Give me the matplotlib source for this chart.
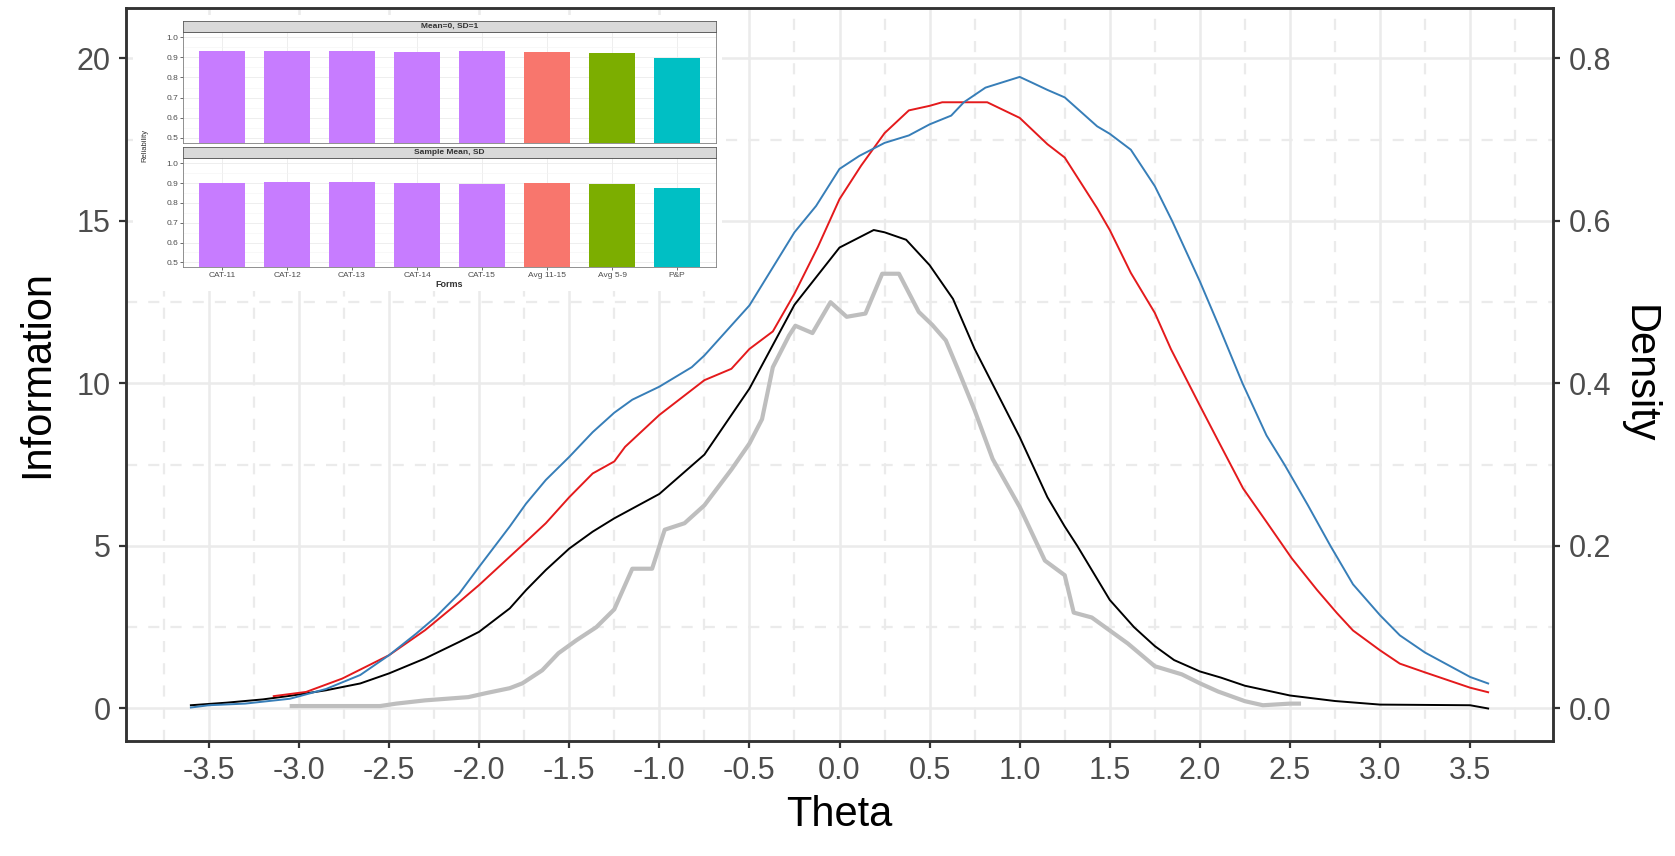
import matplotlib
matplotlib.use('Agg')
import matplotlib.pyplot as plt

plt.rcParams['font.family'] = ['Liberation Sans', 'DejaVu Sans']

# information curves (theta, information)
blue_theta = [-3.6, -3.5, -3.3, -3.05, -2.85, -2.66, -2.5, -2.35, -2.24, -2.11, -2.0, -1.83, -1.74,
              -1.63, -1.5, -1.37, -1.25, -1.15, -1.0, -0.82, -0.75, -0.5, -0.25, -0.13, 0.0, 0.11,
              0.25, 0.385, 0.5, 0.62, 0.69, 0.81, 1.0, 1.07, 1.154, 1.25, 1.43, 1.5, 1.617, 1.75,
              1.846, 2.0, 2.105, 2.237, 2.37, 2.47, 2.6, 2.725, 2.85, 3.0, 3.11, 3.25, 3.5, 3.6]
blue_info = [0.03, 0.1, 0.15, 0.3, 0.6, 1.03, 1.64, 2.3, 2.82, 3.54, 4.36, 5.6, 6.3,
             7.03, 7.74, 8.5, 9.1, 9.5, 9.9, 10.5, 10.86, 12.4, 14.65, 15.46, 16.6, 17.0,
             17.4, 17.63, 17.97, 18.24, 18.65, 19.1, 19.43, 19.25, 19.03, 18.8, 17.91, 17.68, 17.19, 16.07,
             15.0, 13.14, 11.77, 10.0, 8.4, 7.5, 6.25, 5.0, 3.82, 2.87, 2.25, 1.72, 0.97, 0.77]

red_theta = [-3.14, -2.96, -2.76, -2.5, -2.3, -2.11, -2.0, -1.83, -1.74, -1.63, -1.5, -1.37, -1.25,
             -1.19, -1.0, -0.75, -0.6, -0.5, -0.37, -0.25, -0.12, 0.0, 0.12, 0.25, 0.385, 0.5, 0.57,
             0.82, 1.0, 1.154, 1.25, 1.43, 1.5, 1.617, 1.75, 1.84, 2.0, 2.105, 2.24, 2.37, 2.51,
             2.65, 2.76, 2.85, 3.0, 3.11, 3.25, 3.5, 3.6]
red_info = [0.38, 0.51, 0.92, 1.64, 2.41, 3.28, 3.8, 4.67, 5.13, 5.7, 6.5, 7.23, 7.6,
            8.05, 9.03, 10.1, 10.45, 11.06, 11.6, 12.76, 14.2, 15.67, 16.7, 17.7, 18.4, 18.54, 18.65,
            18.65, 18.17, 17.36, 16.95, 15.39, 14.72, 13.4, 12.17, 11.05, 9.32, 8.2, 6.77, 5.74, 4.62,
            3.65, 2.94, 2.4, 1.79, 1.38, 1.11, 0.64, 0.5]

black_theta = [-3.6, -3.4, -3.2, -3.05, -2.85, -2.66, -2.5, -2.3, -2.11, -2.0, -1.83, -1.74, -1.63,
               -1.5, -1.37, -1.25, -1.0, -0.75, -0.5, -0.25, 0.0, 0.19, 0.25, 0.37, 0.5, 0.63, 0.75,
               1.0, 1.154, 1.25, 1.32, 1.5, 1.635, 1.75, 1.857, 2.0, 2.117, 2.25, 2.5, 2.75, 3.0,
               3.5, 3.6]
black_info = [0.1, 0.18, 0.28, 0.39, 0.56, 0.77, 1.08, 1.54, 2.05, 2.36, 3.08, 3.64, 4.26,
              4.92, 5.44, 5.85, 6.6, 7.81, 9.84, 12.42, 14.18, 14.72, 14.65, 14.42, 13.64, 12.6, 11.06,
              8.35, 6.5, 5.6, 5.0, 3.34, 2.5, 1.92, 1.49, 1.14, 0.95, 0.7, 0.4, 0.23, 0.12,
              0.1, 0.0]

# sample density (right axis)
dens_theta = [-3.04, -2.55, -2.46, -2.3, -2.06, -1.96, -1.83, -1.76, -1.65, -1.56, -1.46, -1.35, -1.25,
              -1.15, -1.04, -0.97, -0.86, -0.75, -0.6, -0.5, -0.43, -0.37, -0.28, -0.245, -0.15, -0.05,
              0.04, 0.144, 0.237, 0.33, 0.44, 0.515, 0.59, 0.66, 0.75, 0.85, 1.0, 1.14, 1.25, 1.3, 1.4,
              1.5, 1.6, 1.75, 1.9, 2.0, 2.1, 2.25, 2.35, 2.5, 2.55]
dens_vals = [0.003, 0.003, 0.006, 0.010, 0.014, 0.019, 0.025, 0.031, 0.047, 0.068, 0.084, 0.100, 0.122,
             0.172, 0.172, 0.220, 0.228, 0.250, 0.294, 0.326, 0.356, 0.420, 0.459, 0.471, 0.462, 0.500,
             0.482, 0.486, 0.535, 0.535, 0.488, 0.472, 0.453, 0.416, 0.367, 0.307, 0.248, 0.182, 0.164, 0.118, 0.112,
             0.096, 0.080, 0.052, 0.042, 0.031, 0.021, 0.009, 0.004, 0.006, 0.006]

x_ticks = [-3.5, -3.0, -2.5, -2.0, -1.5, -1.0, -0.5, 0.0, 0.5, 1.0, 1.5, 2.0, 2.5, 3.0, 3.5]
y_ticks = [0, 5, 10, 15, 20]
dens_ticks = [0.0, 0.2, 0.4, 0.6, 0.8]

# inset: reliability by form
forms = ['CAT-11', 'CAT-12', 'CAT-13', 'CAT-14', 'CAT-15', 'Avg 11-15', 'Avg 5-9', 'P&P']
form_group = ['CAT', 'CAT', 'CAT', 'CAT', 'CAT', 'Avg 11-15', 'Avg 5-9', 'P&P']
rel_std = [0.930, 0.932, 0.933, 0.925, 0.930, 0.928, 0.923, 0.898]
rel_sample = [0.900, 0.903, 0.903, 0.902, 0.895, 0.902, 0.897, 0.873]
facet_titles = ['Mean=0, SD=1', 'Sample Mean, SD']
rel_ticks = [0.5, 0.6, 0.7, 0.8, 0.9, 1.0]
group_colors = {'CAT': '#C77CFF', 'Avg 11-15': '#F8766D', 'Avg 5-9': '#7CAE00', 'P&P': '#00BFC4'}

W, H = 1675, 856
fig = plt.figure(figsize=(W / 100, H / 100), dpi=100)


def box(x0, y0, x1, y1):
    # pixel box (top-left origin) -> figure fraction rect
    return [x0 / W, 1 - y1 / H, (x1 - x0) / W, (y1 - y0) / H]


ax = fig.add_axes(box(126, 8, 1553, 741))
ylim = (-1.0, 21.55)
ax.set_xlim(-3.96, 3.96)
ax.set_ylim(*ylim)

ax.set_xticks(x_ticks)
ax.set_xticklabels(['%.1f' % t for t in x_ticks])
ax.set_xticks([t + 0.25 for t in [-4.0] + x_ticks], minor=True)
ax.set_yticks(y_ticks)
ax.set_yticks([2.5, 7.5, 12.5, 17.5], minor=True)
ax.grid(which='major', color='#EBEBEB', lw=1.8, ls='-')
ax.grid(which='minor', color='#EBEBEB', lw=1.6, ls=(0, (5, 5)))
ax.set_axisbelow(True)
ax.tick_params(which='major', length=5, width=1.6, color='#333333', labelsize=22,
               labelcolor='#4D4D4D', pad=6)
ax.tick_params(which='minor', length=0)
for s in ax.spines.values():
    s.set_color('#333333')
    s.set_linewidth(1.8)

ax.plot(black_theta, black_info, color='black', lw=1.4)
ax.plot(red_theta, red_info, color='#E41A1C', lw=1.4)
ax.plot(blue_theta, blue_info, color='#377EB8', lw=1.4)

ax.set_xlabel('Theta', fontsize=30, labelpad=6)
ax.set_ylabel('Information', fontsize=30, labelpad=14)

ax2 = ax.twinx()
ax2.set_ylim(ylim[0] / 25, ylim[1] / 25)
ax2.plot(dens_theta, dens_vals, color='#BEBEBE', lw=3.0)
ax2.set_yticks(dens_ticks)
ax2.set_yticklabels(['%.1f' % t for t in dens_ticks])
ax2.tick_params(length=5, width=1.6, color='#333333', labelsize=22, labelcolor='#4D4D4D', pad=6)
for s in ax2.spines.values():
    s.set_color('#333333')
    s.set_linewidth(1.8)
ax2.set_ylabel('Density', fontsize=30, rotation=270, labelpad=34)

# ---- inset ----
bg = fig.add_axes(box(133, 15, 722, 291), zorder=10)
bg.set_facecolor('white')
bg.set_xticks([])
bg.set_yticks([])
for s in bg.spines.values():
    s.set_visible(False)

panels = [(box(183, 32.3, 716, 142.7), box(183, 20.7, 716, 32.3), rel_std),
          (box(183, 158.3, 716, 267.3), box(183, 146.7, 716, 158.3), rel_sample)]
xs = list(range(len(forms)))
for i, (prect, srect, vals) in enumerate(panels):
    p = fig.add_axes(prect, zorder=11)
    p.set_facecolor('white')
    p.bar(xs, vals, width=0.72, color=[group_colors[g] for g in form_group], zorder=2)
    p.set_xlim(-0.6, len(forms) - 0.4)
    p.set_ylim(0.475, 1.025)
    p.set_yticks(rel_ticks)
    p.set_yticklabels(['%.1f' % t for t in rel_ticks])
    p.set_yticks([0.55, 0.65, 0.75, 0.85, 0.95], minor=True)
    p.set_xticks(xs)
    p.grid(which='major', color='#EBEBEB', lw=0.6)
    p.grid(which='minor', axis='y', color='#F4F4F4', lw=0.4)
    p.set_axisbelow(True)
    p.tick_params(which='major', length=2, width=0.5, color='#333333', labelsize=6,
                  labelcolor='#4D4D4D', pad=1.5)
    p.tick_params(which='minor', length=0)
    for s in p.spines.values():
        s.set_color('#7F7F7F')
        s.set_linewidth(0.6)
    if i == 0:
        p.tick_params(axis='x', labelbottom=False, length=0)
    else:
        p.set_xticklabels(forms)
        p.set_xlabel('Forms', fontsize=6.5, labelpad=0.5, color='#333333', fontweight='bold')

    st = fig.add_axes(srect, zorder=11)
    st.set_facecolor('#D9D9D9')
    st.set_xticks([])
    st.set_yticks([])
    for s in st.spines.values():
        s.set_color('#5A5A5A')
        s.set_linewidth(0.6)
    st.text(0.5, 0.5, facet_titles[i], transform=st.transAxes, ha='center', va='center',
            fontsize=6, color='#333333', fontweight='bold')

fig.text(145 / W, 1 - 145 / H, 'Reliability', rotation=90, ha='center', va='center',
         fontsize=5.5, color='#333333', zorder=12)

fig.savefig('out.png', dpi=100)
